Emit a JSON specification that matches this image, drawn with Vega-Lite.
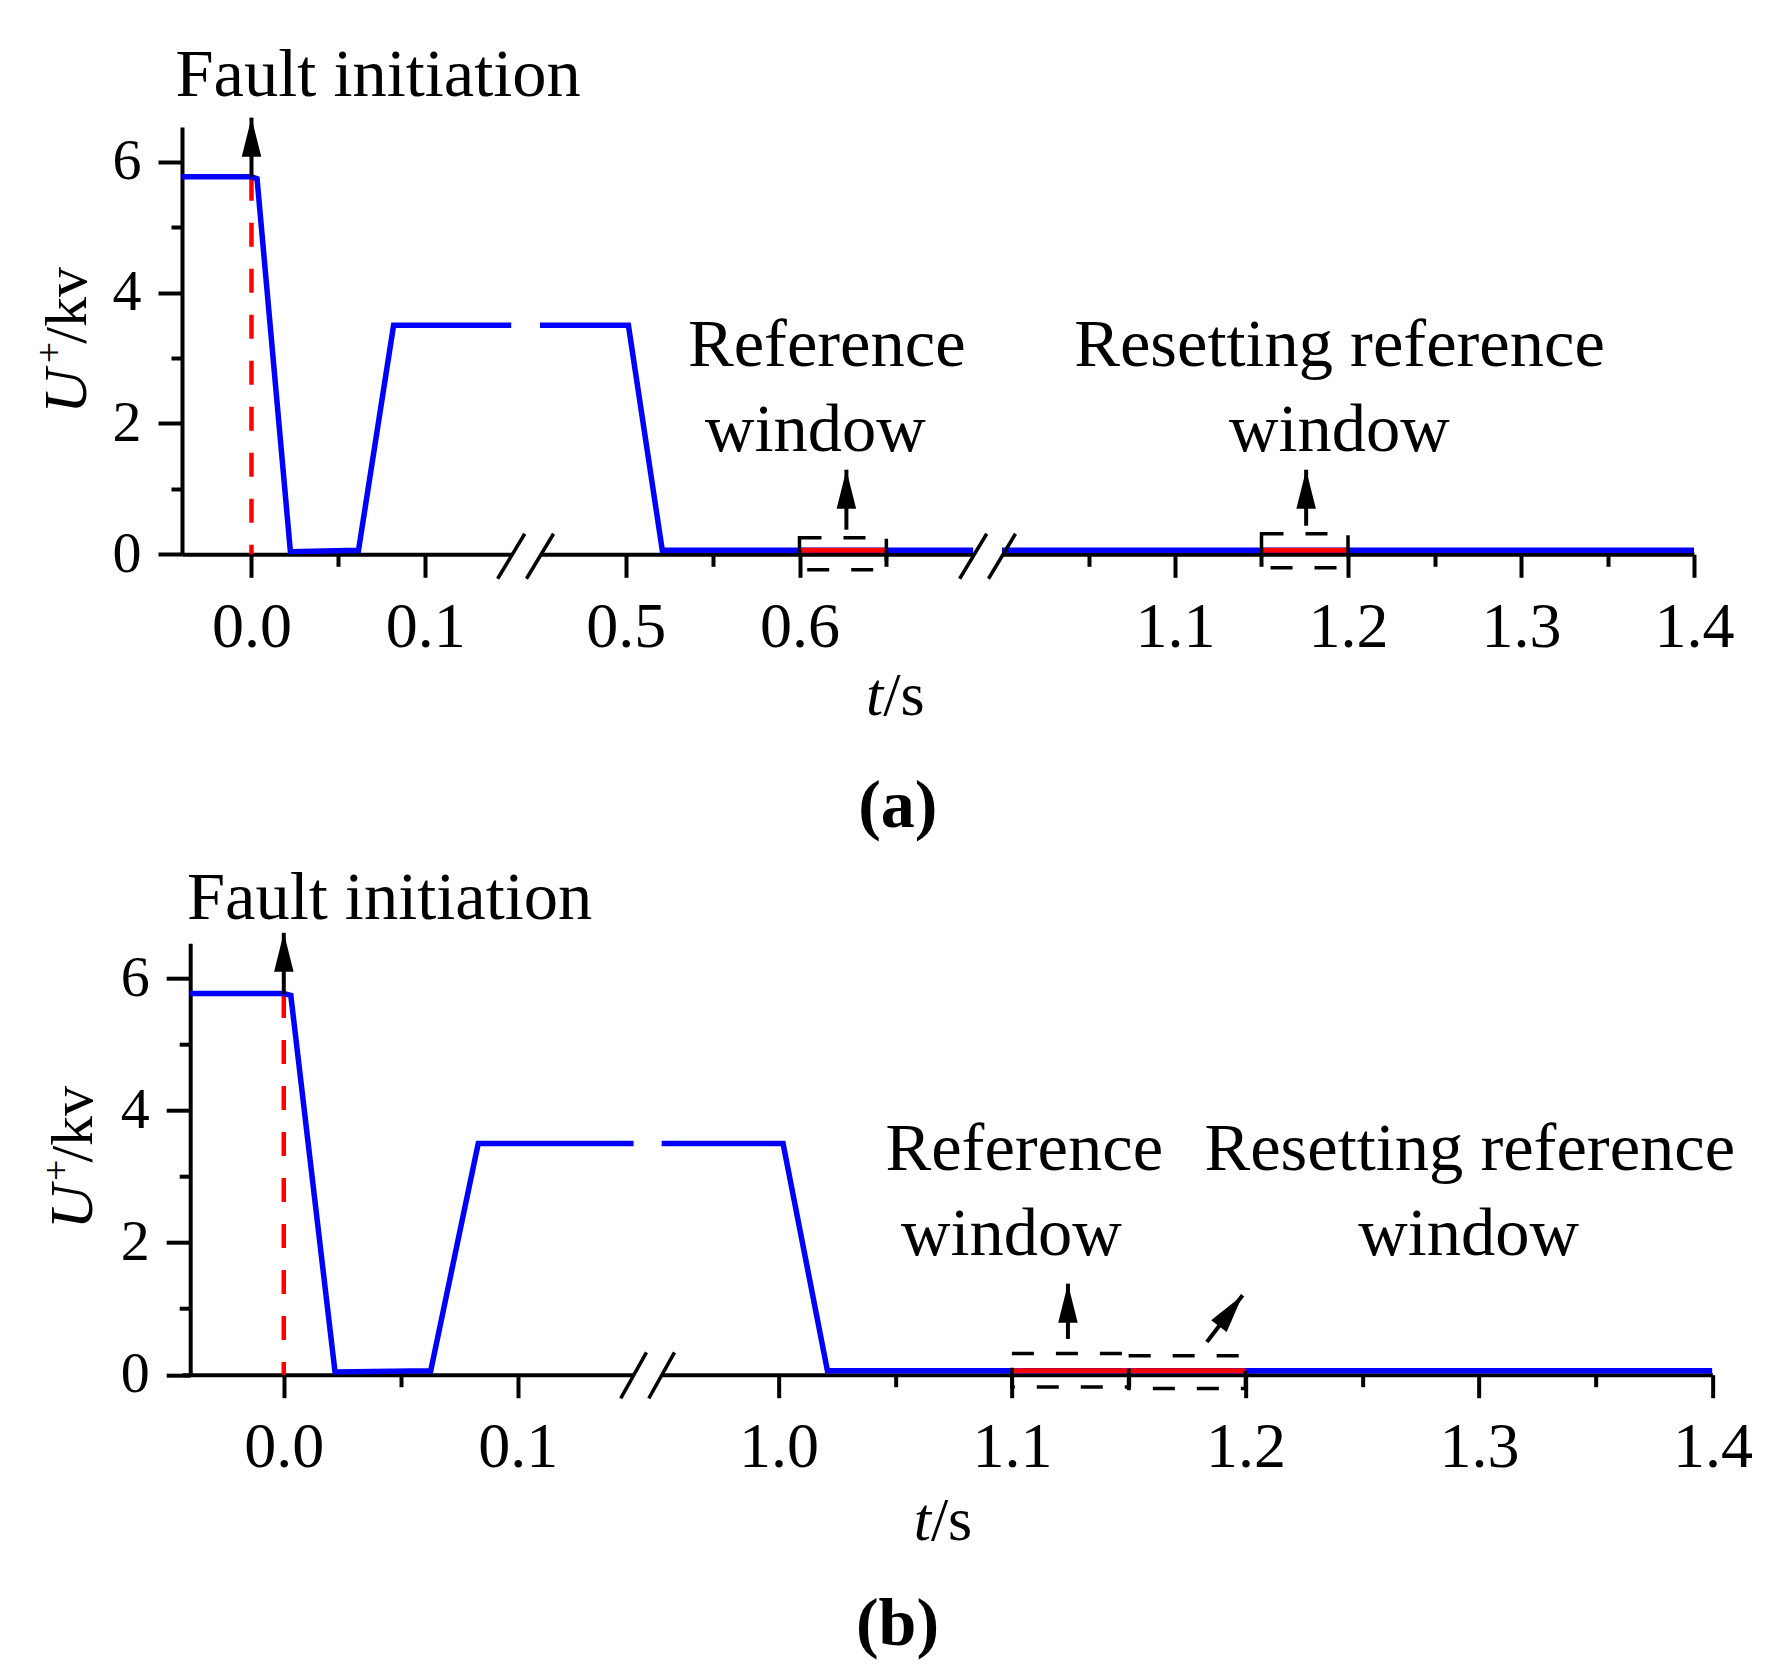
{
"$schema": "https://vega.github.io/schema/vega-lite/v6.json",
"background": "white",
"padding": {"left": 32, "top": 41, "right": 10, "bottom": 10},
"config": {
  "view": {"stroke": null},
  "font": "Liberation Serif",
  "axis": {"domainColor": "black", "domainWidth": 4, "tickColor": "black", "tickWidth": 4, "labelColor": "black", "labelFont": "Liberation Serif", "labelFontSize": 64, "grid": false, "labelFlush": false, "labelOverlap": false},
  "axisY": {"labelFontSize": 58},
  "text": {"font": "Liberation Serif", "color": "black"}
},
"datasets": {
  "blue_a": [
    {"t": -0.04, "u": 5.77}, {"t": 0.0, "u": 5.77}, {"t": 0.0032, "u": 5.74}, {"t": 0.0224, "u": 0.04},
    {"t": 0.0616, "u": 0.06}, {"t": 0.0818, "u": 3.5}, {"t": 0.5015, "u": 3.5}, {"t": 0.521, "u": 0.06}, {"t": 1.4, "u": 0.06}
  ],
  "blue_b": [
    {"t": -0.04, "u": 5.77}, {"t": 0.0, "u": 5.77}, {"t": 0.003, "u": 5.74}, {"t": 0.0219, "u": 0.04},
    {"t": 0.0628, "u": 0.06}, {"t": 0.0831, "u": 3.5}, {"t": 1.002, "u": 3.5}, {"t": 1.021, "u": 0.06}, {"t": 1.4, "u": 0.06}
  ],
  "windows": [
    {"seg": "a2", "start": 0.6, "end": 0.65, "u": 0.06, "lo": -0.235, "hi": 0.254},
    {"seg": "a3", "start": 1.15, "end": 1.2, "u": 0.06, "lo": -0.205, "hi": 0.315},
    {"seg": "b2", "start": 1.1, "end": 1.15, "u": 0.06, "lo": -0.185, "hi": 0.32},
    {"seg": "b2", "start": 1.15, "end": 1.2, "u": 0.06, "lo": -0.21, "hi": 0.285}
  ],
  "arrows": [
    {"seg": "a1", "t": 0.0, "tail": 5.77, "tip": 6.673},
    {"seg": "a2", "t": 0.627, "tail": 0.376, "tip": 1.293},
    {"seg": "a3", "t": 1.1758, "tail": 0.437, "tip": 1.293},
    {"seg": "b1", "t": 0.0, "tail": 5.76, "tip": 6.687},
    {"seg": "b2", "t": 1.124, "tail": 0.542, "tip": 1.378}
  ],
  "slant": [
    {"seg": "b2", "t0": 1.1835, "u0": 0.496, "t1": 1.1988, "u1": 1.203}
  ],
  "fault": [
    {"seg": "a1", "t": 0.0, "u": 5.77},
    {"seg": "b1", "t": 0.0, "u": 5.76}
  ],
  "breaks": [
    {"seg": "a1", "t0": 0.1417, "u0": -0.374, "t1": 0.1573, "u1": 0.314},
    {"seg": "a2", "t0": 0.4428, "u0": -0.374, "t1": 0.4584, "u1": 0.314},
    {"seg": "a2", "t0": 0.6922, "u0": -0.374, "t1": 0.7078, "u1": 0.314},
    {"seg": "a3", "t0": 0.9922, "u0": -0.374, "t1": 1.0078, "u1": 0.314},
    {"seg": "b1", "t0": 0.144, "u0": -0.358, "t1": 0.155, "u1": 0.338},
    {"seg": "b2", "t0": 0.9445, "u0": -0.358, "t1": 0.9555, "u1": 0.338}
  ],
  "notes": [
    {"seg": "a2", "t": 0.6157, "u": 2.876, "text": "Reference"},
    {"seg": "a2", "t": 0.6091, "u": 1.58, "text": "window"},
    {"seg": "a3", "t": 1.1951, "u": 2.876, "text": "Resetting reference"},
    {"seg": "a3", "t": 1.195, "u": 1.58, "text": "window"},
    {"seg": "b2", "t": 1.1053, "u": 3.099, "text": "Reference"},
    {"seg": "b2", "t": 1.0998, "u": 1.815, "text": "window"},
    {"seg": "b2", "t": 1.2961, "u": 3.099, "text": "Resetting reference"},
    {"seg": "b2", "t": 1.2956, "u": 1.815, "text": "window"}
  ],
  "leads": [
    {"seg": "a1", "t": -0.04375, "u": 7.0, "text": "Fault initiation"},
    {"seg": "b1", "t": -0.0414, "u": 6.896, "text": "Fault initiation"}
  ],
  "captions": [
    {"seg": "a2", "t": 0.6566, "u": -4.163, "text": "(a)"},
    {"seg": "b2", "t": 1.051, "u": -4.088, "text": "(b)"}
  ],
  "xtitles": [
    {"seg": "a2", "t": 0.6482, "u": -2.452},
    {"seg": "b2", "t": 1.0653, "u": -2.499}
  ],
  "ytitles": [
    {"seg": "a1", "part": "U", "t": -0.095, "u": 2.149},
    {"seg": "a1", "part": "+", "t": -0.1088, "u": 2.92},
    {"seg": "a1", "part": "/kv", "t": -0.095, "u": 3.219},
    {"seg": "b1", "part": "U", "t": -0.0818, "u": 2.2},
    {"seg": "b1", "part": "+", "t": -0.092, "u": 2.93},
    {"seg": "b1", "part": "/kv", "t": -0.0818, "u": 3.21}
  ]
},
"bounds": "flush",
"spacing": 816.2,
"vconcat": [
 {
  "bounds": "flush",
  "spacing": 28,
  "hconcat": [
   {
    "width": 329.2, "height": 427.3,
    "resolve": {"axis": {"x": "independent", "y": "independent"}},
    "layer": [
     {"data": {"name": "fault"}, "transform": [{"filter": "datum.seg == 'a1'"}],
      "mark": {"type": "rule", "color": "#ff0000", "strokeWidth": 4.5, "strokeDash": [24, 22]},
      "encoding": {"x": {"field": "t", "type": "quantitative", "axis": null}, "y": {"field": "u", "type": "quantitative", "axis": null}, "y2": {"datum": 0}}},
     {"data": {"name": "blue_a"},
      "mark": {"type": "line", "color": "#0000ff", "strokeWidth": 5.5, "clip": true},
      "encoding": {
       "x": {"field": "t", "type": "quantitative", "scale": {"domain": [-0.04, 0.1495], "nice": false, "zero": false},
             "axis": {"orient": "bottom", "values": [0, 0.1], "format": ".1f", "tickSize": 23, "labelPadding": 18, "title": null}},
       "y": {"field": "u", "type": "quantitative", "scale": {"domain": [0, 6.53], "nice": false, "zero": false},
             "axis": {"orient": "left", "values": [0, 2, 4, 6], "format": "d", "tickSize": 24, "labelPadding": 17, "title": null}}
      }},
     {"data": {"name": "breaks"}, "transform": [{"filter": "datum.seg == 'a1'"}],
      "mark": {"type": "rule", "color": "black", "strokeWidth": 3.5},
      "encoding": {
       "x": {"field": "t0", "type": "quantitative", "axis": {"orient": "bottom", "values": [0.05], "tickSize": 12, "labels": false, "domain": false, "title": null}},
       "x2": {"field": "t1"},
       "y": {"field": "u0", "type": "quantitative", "axis": {"orient": "left", "values": [1, 3, 5], "tickSize": 11, "labels": false, "domain": false, "title": null}},
       "y2": {"field": "u1"}
      }},
     {"data": {"name": "arrows"}, "transform": [{"filter": "datum.seg == 'a1'"}],
      "mark": {"type": "rule", "color": "black", "strokeWidth": 4},
      "encoding": {"x": {"field": "t", "type": "quantitative", "axis": null}, "y": {"field": "tail", "type": "quantitative", "axis": null}, "y2": {"field": "tip"}}},
     {"data": {"name": "arrows"}, "transform": [{"filter": "datum.seg == 'a1'"}],
      "mark": {"type": "point", "shape": "M0,0L0.5,2L-0.5,2Z", "size": 1521, "filled": true, "color": "black", "opacity": 1, "strokeWidth": 0},
      "encoding": {"x": {"field": "t", "type": "quantitative", "axis": null}, "y": {"field": "tip", "type": "quantitative", "axis": null}}},
     {"data": {"name": "leads"}, "transform": [{"filter": "datum.seg == 'a1'"}],
      "mark": {"type": "text", "fontSize": 68.5, "align": "left", "baseline": "alphabetic", "color": "black"},
      "encoding": {"x": {"field": "t", "type": "quantitative", "axis": null}, "y": {"field": "u", "type": "quantitative", "axis": null}, "text": {"field": "text"}}},
     {"data": {"name": "ytitles"}, "transform": [{"filter": "datum.seg == 'a1' && datum.part == 'U'"}],
      "mark": {"type": "text", "fontSize": 62, "fontStyle": "italic", "angle": 270, "align": "left", "baseline": "alphabetic", "color": "black"},
      "encoding": {"x": {"field": "t", "type": "quantitative", "axis": null}, "y": {"field": "u", "type": "quantitative", "axis": null}, "text": {"field": "part"}}},
     {"data": {"name": "ytitles"}, "transform": [{"filter": "datum.seg == 'a1' && datum.part == '+'"}],
      "mark": {"type": "text", "fontSize": 38, "angle": 270, "align": "left", "baseline": "alphabetic", "color": "black"},
      "encoding": {"x": {"field": "t", "type": "quantitative", "axis": null}, "y": {"field": "u", "type": "quantitative", "axis": null}, "text": {"field": "part"}}},
     {"data": {"name": "ytitles"}, "transform": [{"filter": "datum.seg == 'a1' && datum.part == '/kv'"}],
      "mark": {"type": "text", "fontSize": 60, "angle": 270, "align": "left", "baseline": "alphabetic", "color": "black"},
      "encoding": {"x": {"field": "t", "type": "quantitative", "axis": null}, "y": {"field": "u", "type": "quantitative", "axis": null}, "text": {"field": "part"}}}
    ]
   },
   {
    "width": 433.2, "height": 427.3,
    "resolve": {"axis": {"x": "independent", "y": "independent"}},
    "layer": [
     {"data": {"name": "blue_a"},
      "mark": {"type": "line", "color": "#0000ff", "strokeWidth": 5.5, "clip": true},
      "encoding": {
       "x": {"field": "t", "type": "quantitative", "scale": {"domain": [0.4506, 0.7], "nice": false, "zero": false},
             "axis": {"orient": "bottom", "values": [0.5, 0.6], "format": ".1f", "tickSize": 23, "labelPadding": 18, "title": null}},
       "y": {"field": "u", "type": "quantitative", "scale": {"domain": [0, 6.53], "nice": false, "zero": false}, "axis": null}
      }},
     {"data": {"name": "breaks"}, "transform": [{"filter": "datum.seg == 'a2'"}],
      "mark": {"type": "rule", "color": "black", "strokeWidth": 3.5},
      "encoding": {
       "x": {"field": "t0", "type": "quantitative", "axis": {"orient": "bottom", "values": [0.55, 0.65], "tickSize": 12, "labels": false, "domain": false, "title": null}},
       "x2": {"field": "t1"},
       "y": {"field": "u0", "type": "quantitative", "axis": null},
       "y2": {"field": "u1"}
      }},
     {"data": {"name": "windows"}, "transform": [{"filter": "datum.seg == 'a2'"}],
      "mark": {"type": "rule", "color": "#ff0000", "strokeWidth": 5},
      "encoding": {"x": {"field": "start", "type": "quantitative", "axis": null}, "x2": {"field": "end"}, "y": {"field": "u", "type": "quantitative", "axis": null}}},
     {"data": {"name": "windows"}, "transform": [{"filter": "datum.seg == 'a2'"}],
      "mark": {"type": "rect", "fillOpacity": 0, "stroke": "black", "strokeWidth": 3.5, "strokeDash": [22, 22]},
      "encoding": {"x": {"field": "start", "type": "quantitative", "axis": null}, "x2": {"field": "end"}, "y": {"field": "lo", "type": "quantitative", "axis": null}, "y2": {"field": "hi"}}},
     {"data": {"name": "arrows"}, "transform": [{"filter": "datum.seg == 'a2'"}],
      "mark": {"type": "rule", "color": "black", "strokeWidth": 4},
      "encoding": {"x": {"field": "t", "type": "quantitative", "axis": null}, "y": {"field": "tail", "type": "quantitative", "axis": null}, "y2": {"field": "tip"}}},
     {"data": {"name": "arrows"}, "transform": [{"filter": "datum.seg == 'a2'"}],
      "mark": {"type": "point", "shape": "M0,0L0.5,2L-0.5,2Z", "size": 1521, "filled": true, "color": "black", "opacity": 1, "strokeWidth": 0},
      "encoding": {"x": {"field": "t", "type": "quantitative", "axis": null}, "y": {"field": "tip", "type": "quantitative", "axis": null}}},
     {"data": {"name": "notes"}, "transform": [{"filter": "datum.seg == 'a2'"}],
      "mark": {"type": "text", "fontSize": 68.5, "align": "center", "baseline": "alphabetic", "color": "black"},
      "encoding": {"x": {"field": "t", "type": "quantitative", "axis": null}, "y": {"field": "u", "type": "quantitative", "axis": null}, "text": {"field": "text"}}},
     {"data": {"name": "xtitles"}, "transform": [{"filter": "datum.seg == 'a2'"}],
      "mark": {"type": "text", "text": "t", "fontSize": 62, "fontStyle": "italic", "align": "right", "baseline": "alphabetic", "color": "black"},
      "encoding": {"x": {"field": "t", "type": "quantitative", "axis": null}, "y": {"field": "u", "type": "quantitative", "axis": null}}},
     {"data": {"name": "xtitles"}, "transform": [{"filter": "datum.seg == 'a2'"}],
      "mark": {"type": "text", "text": "/s", "fontSize": 62, "align": "left", "baseline": "alphabetic", "color": "black"},
      "encoding": {"x": {"field": "t", "type": "quantitative", "axis": null}, "y": {"field": "u", "type": "quantitative", "axis": null}}},
     {"data": {"name": "captions"}, "transform": [{"filter": "datum.seg == 'a2'"}],
      "mark": {"type": "text", "fontSize": 68, "fontWeight": "bold", "align": "center", "baseline": "alphabetic", "color": "black"},
      "encoding": {"x": {"field": "t", "type": "quantitative", "axis": null}, "y": {"field": "u", "type": "quantitative", "axis": null}, "text": {"field": "text"}}}
    ]
   },
   {
    "width": 692, "height": 427.3,
    "resolve": {"axis": {"x": "independent", "y": "independent"}},
    "layer": [
     {"data": {"name": "blue_a"},
      "mark": {"type": "line", "color": "#0000ff", "strokeWidth": 5.5, "clip": true},
      "encoding": {
       "x": {"field": "t", "type": "quantitative", "scale": {"domain": [1.0, 1.4], "nice": false, "zero": false},
             "axis": {"orient": "bottom", "values": [1.1, 1.2, 1.3, 1.4], "format": ".1f", "tickSize": 23, "labelPadding": 18, "title": null}},
       "y": {"field": "u", "type": "quantitative", "scale": {"domain": [0, 6.53], "nice": false, "zero": false}, "axis": null}
      }},
     {"data": {"name": "breaks"}, "transform": [{"filter": "datum.seg == 'a3'"}],
      "mark": {"type": "rule", "color": "black", "strokeWidth": 3.5},
      "encoding": {
       "x": {"field": "t0", "type": "quantitative", "axis": {"orient": "bottom", "values": [1.05, 1.15, 1.25, 1.35], "tickSize": 12, "labels": false, "domain": false, "title": null}},
       "x2": {"field": "t1"},
       "y": {"field": "u0", "type": "quantitative", "axis": null},
       "y2": {"field": "u1"}
      }},
     {"data": {"name": "windows"}, "transform": [{"filter": "datum.seg == 'a3'"}],
      "mark": {"type": "rule", "color": "#ff0000", "strokeWidth": 5},
      "encoding": {"x": {"field": "start", "type": "quantitative", "axis": null}, "x2": {"field": "end"}, "y": {"field": "u", "type": "quantitative", "axis": null}}},
     {"data": {"name": "windows"}, "transform": [{"filter": "datum.seg == 'a3'"}],
      "mark": {"type": "rect", "fillOpacity": 0, "stroke": "black", "strokeWidth": 3.5, "strokeDash": [22, 22]},
      "encoding": {"x": {"field": "start", "type": "quantitative", "axis": null}, "x2": {"field": "end"}, "y": {"field": "lo", "type": "quantitative", "axis": null}, "y2": {"field": "hi"}}},
     {"data": {"name": "arrows"}, "transform": [{"filter": "datum.seg == 'a3'"}],
      "mark": {"type": "rule", "color": "black", "strokeWidth": 4},
      "encoding": {"x": {"field": "t", "type": "quantitative", "axis": null}, "y": {"field": "tail", "type": "quantitative", "axis": null}, "y2": {"field": "tip"}}},
     {"data": {"name": "arrows"}, "transform": [{"filter": "datum.seg == 'a3'"}],
      "mark": {"type": "point", "shape": "M0,0L0.5,2L-0.5,2Z", "size": 1521, "filled": true, "color": "black", "opacity": 1, "strokeWidth": 0},
      "encoding": {"x": {"field": "t", "type": "quantitative", "axis": null}, "y": {"field": "tip", "type": "quantitative", "axis": null}}},
     {"data": {"name": "notes"}, "transform": [{"filter": "datum.seg == 'a3'"}],
      "mark": {"type": "text", "fontSize": 68.5, "align": "center", "baseline": "alphabetic", "color": "black"},
      "encoding": {"x": {"field": "t", "type": "quantitative", "axis": null}, "y": {"field": "u", "type": "quantitative", "axis": null}, "text": {"field": "text"}}}
    ]
   }
  ]
 },
 {
  "bounds": "flush",
  "spacing": 27.65,
  "hconcat": [
   {
    "width": 451.6, "height": 431.5,
    "resolve": {"axis": {"x": "independent", "y": "independent"}},
    "layer": [
     {"data": {"name": "fault"}, "transform": [{"filter": "datum.seg == 'b1'"}],
      "mark": {"type": "rule", "color": "#ff0000", "strokeWidth": 4.5, "strokeDash": [24, 22]},
      "encoding": {"x": {"field": "t", "type": "quantitative", "axis": null}, "y": {"field": "u", "type": "quantitative", "axis": null}, "y2": {"datum": 0}}},
     {"data": {"name": "blue_b"},
      "mark": {"type": "line", "color": "#0000ff", "strokeWidth": 5.5, "clip": true},
      "encoding": {
       "x": {"field": "t", "type": "quantitative", "scale": {"domain": [-0.0435, 0.1495], "nice": false, "zero": false},
             "axis": {"orient": "bottom", "values": [0, 0.1], "format": ".1f", "tickSize": 23, "labelPadding": 18, "title": null}},
       "y": {"field": "u", "type": "quantitative", "scale": {"domain": [0, 6.53], "nice": false, "zero": false},
             "axis": {"orient": "left", "offset": -8.2, "values": [0, 2, 4, 6], "format": "d", "tickSize": 24, "labelPadding": 17, "title": null}}
      }},
     {"data": {"name": "breaks"}, "transform": [{"filter": "datum.seg == 'b1'"}],
      "mark": {"type": "rule", "color": "black", "strokeWidth": 3.5},
      "encoding": {
       "x": {"field": "t0", "type": "quantitative", "axis": {"orient": "bottom", "values": [0.05], "tickSize": 12, "labels": false, "domain": false, "title": null}},
       "x2": {"field": "t1"},
       "y": {"field": "u0", "type": "quantitative", "axis": {"orient": "left", "offset": -8.2, "values": [1, 3, 5], "tickSize": 11, "labels": false, "domain": false, "title": null}},
       "y2": {"field": "u1"}
      }},
     {"data": {"name": "arrows"}, "transform": [{"filter": "datum.seg == 'b1'"}],
      "mark": {"type": "rule", "color": "black", "strokeWidth": 4},
      "encoding": {"x": {"field": "t", "type": "quantitative", "axis": null}, "y": {"field": "tail", "type": "quantitative", "axis": null}, "y2": {"field": "tip"}}},
     {"data": {"name": "arrows"}, "transform": [{"filter": "datum.seg == 'b1'"}],
      "mark": {"type": "point", "shape": "M0,0L0.5,2L-0.5,2Z", "size": 1521, "filled": true, "color": "black", "opacity": 1, "strokeWidth": 0},
      "encoding": {"x": {"field": "t", "type": "quantitative", "axis": null}, "y": {"field": "tip", "type": "quantitative", "axis": null}}},
     {"data": {"name": "leads"}, "transform": [{"filter": "datum.seg == 'b1'"}],
      "mark": {"type": "text", "fontSize": 68.5, "align": "left", "baseline": "alphabetic", "color": "black"},
      "encoding": {"x": {"field": "t", "type": "quantitative", "axis": null}, "y": {"field": "u", "type": "quantitative", "axis": null}, "text": {"field": "text"}}},
     {"data": {"name": "ytitles"}, "transform": [{"filter": "datum.seg == 'b1' && datum.part == 'U'"}],
      "mark": {"type": "text", "fontSize": 62, "fontStyle": "italic", "angle": 270, "align": "left", "baseline": "alphabetic", "color": "black"},
      "encoding": {"x": {"field": "t", "type": "quantitative", "axis": null}, "y": {"field": "u", "type": "quantitative", "axis": null}, "text": {"field": "part"}}},
     {"data": {"name": "ytitles"}, "transform": [{"filter": "datum.seg == 'b1' && datum.part == '+'"}],
      "mark": {"type": "text", "fontSize": 38, "angle": 270, "align": "left", "baseline": "alphabetic", "color": "black"},
      "encoding": {"x": {"field": "t", "type": "quantitative", "axis": null}, "y": {"field": "u", "type": "quantitative", "axis": null}, "text": {"field": "part"}}},
     {"data": {"name": "ytitles"}, "transform": [{"filter": "datum.seg == 'b1' && datum.part == '/kv'"}],
      "mark": {"type": "text", "fontSize": 60, "angle": 270, "align": "left", "baseline": "alphabetic", "color": "black"},
      "encoding": {"x": {"field": "t", "type": "quantitative", "axis": null}, "y": {"field": "u", "type": "quantitative", "axis": null}, "text": {"field": "part"}}}
    ]
   },
   {
    "width": 1050.75, "height": 431.5,
    "resolve": {"axis": {"x": "independent", "y": "independent"}},
    "layer": [
     {"data": {"name": "blue_b"},
      "mark": {"type": "line", "color": "#0000ff", "strokeWidth": 5.5, "clip": true},
      "encoding": {
       "x": {"field": "t", "type": "quantitative", "scale": {"domain": [0.95, 1.4], "nice": false, "zero": false},
             "axis": {"orient": "bottom", "values": [1.0, 1.1, 1.2, 1.3, 1.4], "format": ".1f", "tickSize": 23, "labelPadding": 18, "title": null}},
       "y": {"field": "u", "type": "quantitative", "scale": {"domain": [0, 6.53], "nice": false, "zero": false}, "axis": null}
      }},
     {"data": {"name": "breaks"}, "transform": [{"filter": "datum.seg == 'b2'"}],
      "mark": {"type": "rule", "color": "black", "strokeWidth": 3.5},
      "encoding": {
       "x": {"field": "t0", "type": "quantitative", "axis": {"orient": "bottom", "values": [1.05, 1.15, 1.25, 1.35], "tickSize": 12, "labels": false, "domain": false, "title": null}},
       "x2": {"field": "t1"},
       "y": {"field": "u0", "type": "quantitative", "axis": null},
       "y2": {"field": "u1"}
      }},
     {"data": {"name": "windows"}, "transform": [{"filter": "datum.seg == 'b2'"}],
      "mark": {"type": "rule", "color": "#ff0000", "strokeWidth": 5},
      "encoding": {"x": {"field": "start", "type": "quantitative", "axis": null}, "x2": {"field": "end"}, "y": {"field": "u", "type": "quantitative", "axis": null}}},
     {"data": {"name": "windows"}, "transform": [{"filter": "datum.seg == 'b2'"}],
      "mark": {"type": "rect", "fillOpacity": 0, "stroke": "black", "strokeWidth": 3.5, "strokeDash": [22, 22]},
      "encoding": {"x": {"field": "start", "type": "quantitative", "axis": null}, "x2": {"field": "end"}, "y": {"field": "lo", "type": "quantitative", "axis": null}, "y2": {"field": "hi"}}},
     {"data": {"name": "arrows"}, "transform": [{"filter": "datum.seg == 'b2'"}],
      "mark": {"type": "rule", "color": "black", "strokeWidth": 4},
      "encoding": {"x": {"field": "t", "type": "quantitative", "axis": null}, "y": {"field": "tail", "type": "quantitative", "axis": null}, "y2": {"field": "tip"}}},
     {"data": {"name": "arrows"}, "transform": [{"filter": "datum.seg == 'b2'"}],
      "mark": {"type": "point", "shape": "M0,0L0.5,2L-0.5,2Z", "size": 1521, "filled": true, "color": "black", "opacity": 1, "strokeWidth": 0},
      "encoding": {"x": {"field": "t", "type": "quantitative", "axis": null}, "y": {"field": "tip", "type": "quantitative", "axis": null}}},
     {"data": {"name": "slant"}, "transform": [{"filter": "datum.seg == 'b2'"}],
      "mark": {"type": "rule", "color": "black", "strokeWidth": 4},
      "encoding": {"x": {"field": "t0", "type": "quantitative", "axis": null}, "x2": {"field": "t1"}, "y": {"field": "u0", "type": "quantitative", "axis": null}, "y2": {"field": "u1"}}},
     {"data": {"name": "slant"}, "transform": [{"filter": "datum.seg == 'b2'"}],
      "mark": {"type": "point", "shape": "M0,0L0.5,2L-0.5,2Z", "size": 1521, "angle": 37.4, "filled": true, "color": "black", "opacity": 1, "strokeWidth": 0},
      "encoding": {"x": {"field": "t1", "type": "quantitative", "axis": null}, "y": {"field": "u1", "type": "quantitative", "axis": null}}},
     {"data": {"name": "notes"}, "transform": [{"filter": "datum.seg == 'b2'"}],
      "mark": {"type": "text", "fontSize": 68.5, "align": "center", "baseline": "alphabetic", "color": "black"},
      "encoding": {"x": {"field": "t", "type": "quantitative", "axis": null}, "y": {"field": "u", "type": "quantitative", "axis": null}, "text": {"field": "text"}}},
     {"data": {"name": "xtitles"}, "transform": [{"filter": "datum.seg == 'b2'"}],
      "mark": {"type": "text", "text": "t", "fontSize": 62, "fontStyle": "italic", "align": "right", "baseline": "alphabetic", "color": "black"},
      "encoding": {"x": {"field": "t", "type": "quantitative", "axis": null}, "y": {"field": "u", "type": "quantitative", "axis": null}}},
     {"data": {"name": "xtitles"}, "transform": [{"filter": "datum.seg == 'b2'"}],
      "mark": {"type": "text", "text": "/s", "fontSize": 62, "align": "left", "baseline": "alphabetic", "color": "black"},
      "encoding": {"x": {"field": "t", "type": "quantitative", "axis": null}, "y": {"field": "u", "type": "quantitative", "axis": null}}},
     {"data": {"name": "captions"}, "transform": [{"filter": "datum.seg == 'b2'"}],
      "mark": {"type": "text", "fontSize": 68, "fontWeight": "bold", "align": "center", "baseline": "alphabetic", "color": "black"},
      "encoding": {"x": {"field": "t", "type": "quantitative", "axis": null}, "y": {"field": "u", "type": "quantitative", "axis": null}, "text": {"field": "text"}}}
    ]
   }
  ]
 }
]
}
